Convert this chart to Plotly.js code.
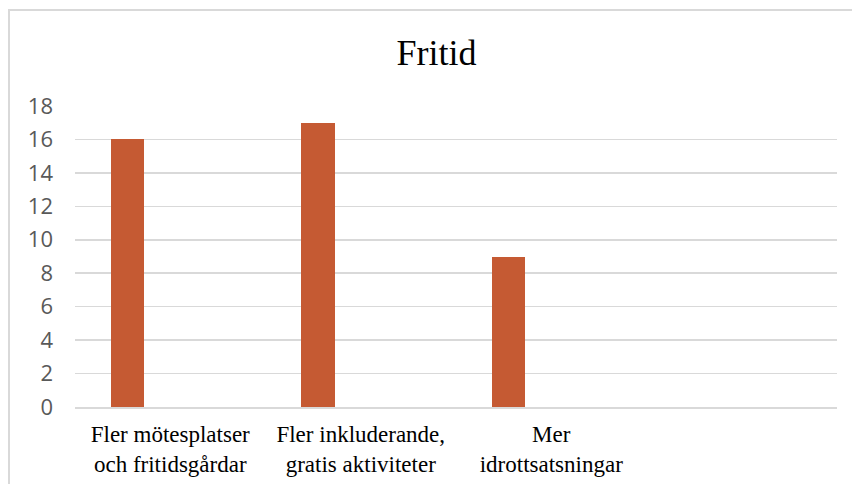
<!DOCTYPE html>
<html>
<head>
<meta charset="utf-8">
<script src="https://cdn.plot.ly/plotly-3.0.1.min.js"></script>
<style>
  html, body { margin: 0; padding: 0; background: #ffffff; }
  #frame { position: absolute; left: 8px; top: 9px; width: 900px; height: 520px;
           border-left: 2px solid #d9d9d9; border-top: 2px solid #d9d9d9; }
  #chart { position: absolute; left: 0; top: 0; width: 852px; height: 484px; }
</style>
</head>
<body>
<div id="frame"></div>
<div id="chart"></div>
<script>
const chartTitle = "Fritid";
const categories = [
  "Fler mötesplatser<br>och fritidsgårdar",
  "Fler inkluderande,<br>gratis aktiviteter",
  "Mer<br>idrottsatsningar"
];
const values = [16, 17, 9];
const yTicks = [0, 2, 4, 6, 8, 10, 12, 14, 16, 18];

const serif = "'Liberation Serif', 'Times New Roman', Times, serif";

const trace = {
  type: "bar",
  x: categories,
  y: values,
  width: 0.175,
  offset: -0.312,
  marker: { color: "#c55a33", line: { width: 0 } },
  hoverinfo: "x+y"
};

const layout = {
  width: 852,
  height: 484,
  margin: { l: 75, r: 15, t: 106, b: 77, pad: 0 },
  paper_bgcolor: "rgba(0,0,0,0)",
  plot_bgcolor: "rgba(0,0,0,0)",
  showlegend: false,
  title: {
    text: chartTitle,
    font: { family: serif, size: 36, color: "#000000" },
    xref: "container", yref: "container",
    x: 436.5 / 852, xanchor: "center",
    y: 1 - 52 / 484, yanchor: "middle"
  },
  xaxis: {
    type: "category",
    range: [-0.5, 3.5],
    showgrid: false,
    showline: true,
    linecolor: "#d9d9d9",
    linewidth: 1.5,
    ticks: "",
    zeroline: false,
    tickfont: { family: serif, size: 23, color: "#000000" },
    ticklabelstandoff: 6,
    fixedrange: true
  },
  yaxis: {
    range: [0, 18],
    tickvals: yTicks,
    ticktext: yTicks.map(String),
    showgrid: true,
    gridcolor: "#d9d9d9",
    gridwidth: 1.5,
    zeroline: false,
    showline: false,
    ticks: "",
    tickfont: { family: "'Open Sans', 'Noto Sans', sans-serif", size: 22, color: "#595959" },
    ticklabelstandoff: 21,
    fixedrange: true
  },
  bargap: 0
};

Plotly.newPlot("chart", [trace], layout, { displayModeBar: false, staticPlot: true });
</script>
</body>
</html>
